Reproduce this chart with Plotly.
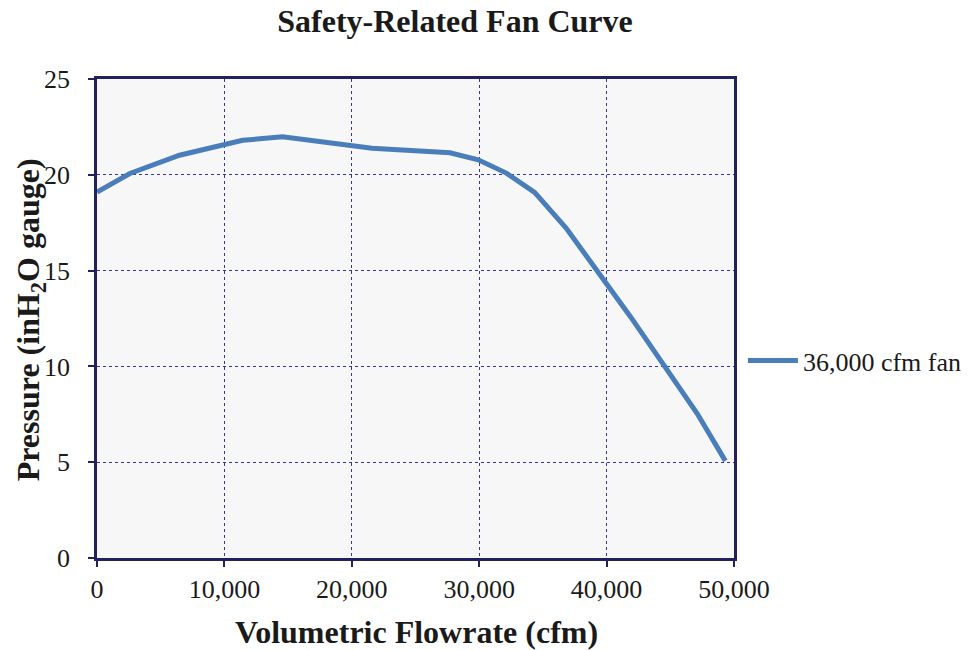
import plotly.graph_objects as go

# fan curve
flow_cfm = [0, 2580, 6480, 11430, 14560, 21590, 27710, 29920, 32130, 34350,
            36820, 41900, 47110, 49320]
pressure_inh2o = [19.1, 20.07, 21.02, 21.8, 21.98, 21.39, 21.15, 20.78, 20.09, 19.08,
                  17.22, 12.57, 7.54, 5.07]
series_name = "36,000 cfm fan"

x_ticks = [0, 10000, 20000, 30000, 40000, 50000]
x_tick_text = ["0", "10,000", "20,000", "30,000", "40,000", "50,000"]
y_ticks = [0, 5, 10, 15, 20, 25]

navy = "#22205e"
serif = "Liberation Serif, Times New Roman, serif"

# page body adds an 8px margin, so shift everything up/left by that much
off = 8

fig = go.Figure()
fig.add_trace(go.Scatter(x=flow_cfm, y=pressure_inh2o, mode="lines",
                         name=series_name,
                         line=dict(color="#4a7ebb", width=5)))

fig.update_layout(
    width=971, height=650,
    paper_bgcolor="white",
    plot_bgcolor="#f7f7f7",
    margin=dict(l=97 - off, r=234 + off, t=79 - off, b=92 + off),
    font=dict(family=serif, size=26, color="#1a1a1a"),
    title=dict(text="<b>Safety-Related Fan Curve</b>", x=(455 - off) / 971,
               xanchor="center", xref="container", y=1 - (21 - off) / 650,
               yanchor="middle", yref="container",
               font=dict(size=32, family=serif, color="#1a1a1a")),
    showlegend=True,
    legend=dict(x=1.014, y=0.412, xanchor="left", yanchor="middle",
                bgcolor="rgba(0,0,0,0)", font=dict(size=26, family=serif),
                itemwidth=50),
    xaxis=dict(range=[0, 50000], tickvals=x_ticks, ticktext=x_tick_text,
               automargin=False,
               showline=True, linecolor=navy, linewidth=2.5, mirror=True,
               ticks="outside", ticklen=6, tickcolor=navy, tickwidth=2,
               showgrid=True, gridcolor="#34349a", griddash="dot", gridwidth=1,
               zeroline=False),
    yaxis=dict(range=[0, 25], tickvals=y_ticks,
               ticktext=[f"{v}\u00a0\u00a0" for v in y_ticks],
               automargin=False,
               showline=True, linecolor=navy, linewidth=2.5, mirror=True,
               ticks="outside", ticklen=6, tickcolor=navy, tickwidth=2,
               showgrid=True, gridcolor="#34349a", griddash="dot", gridwidth=1,
               zeroline=False),
    annotations=[
        dict(text="<b>Volumetric Flowrate (cfm)</b>", xref="paper", yref="paper",
             x=(418 - 97) / 640, y=-(632 - 558) / 479, xanchor="center",
             yanchor="middle", showarrow=False,
             font=dict(size=32, family=serif, color="#1a1a1a")),
        dict(text="<b>Pressure (inH<sub>2</sub>O gauge)</b>", xref="paper",
             yref="paper", x=-(97 - 30) / 640, y=(558 - 320) / 479,
             xanchor="center", yanchor="middle", textangle=-90, showarrow=False,
             font=dict(size=32, family=serif, color="#1a1a1a")),
    ],
)

fig.write_html("out.html")
